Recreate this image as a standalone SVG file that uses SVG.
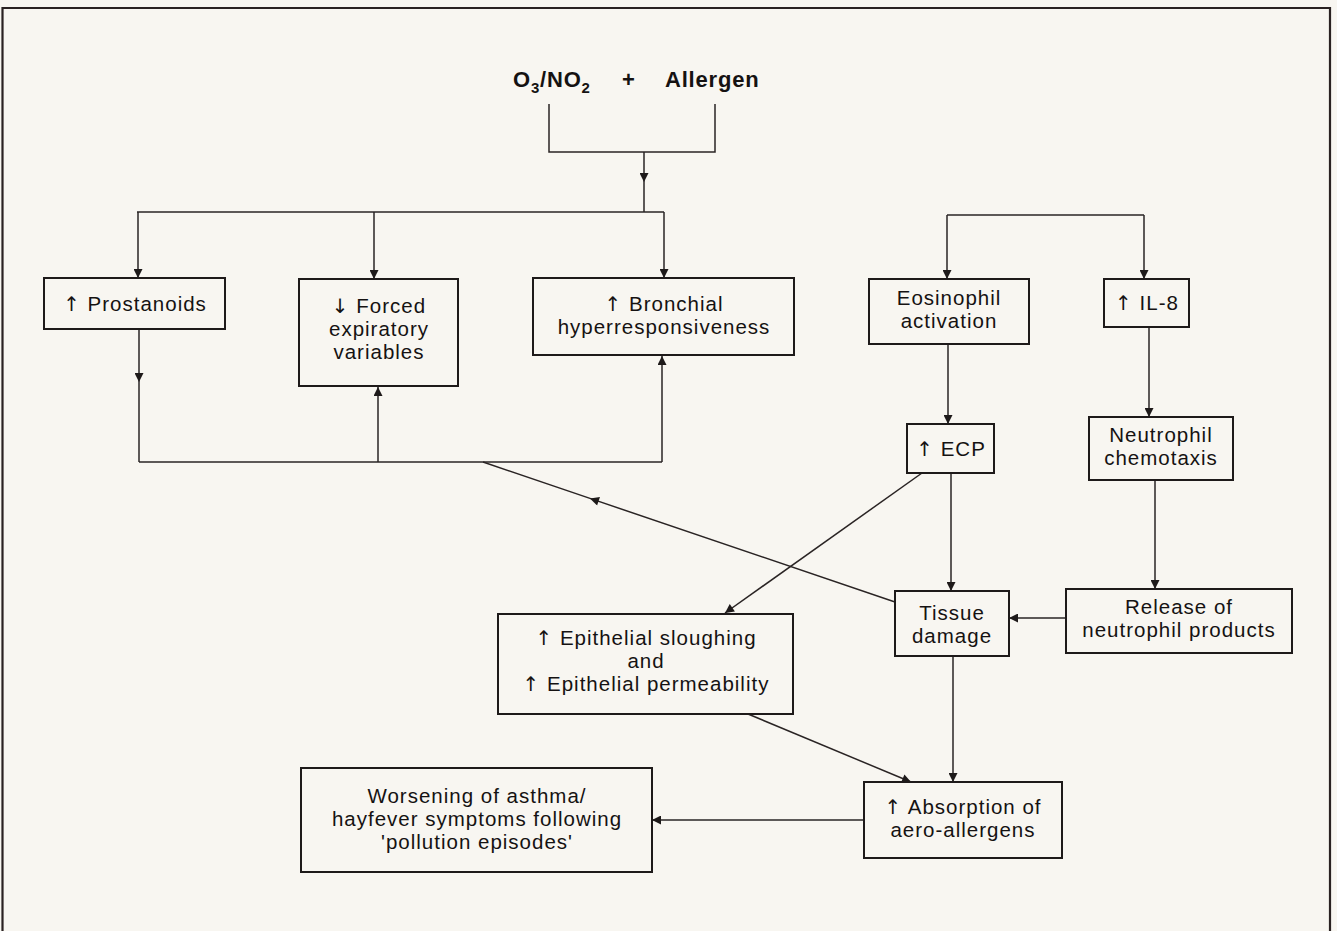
<svg xmlns="http://www.w3.org/2000/svg" width="1337" height="931" viewBox="0 0 1337 931">
<style>
.bg{fill:#f8f6f1}
.box{fill:none;stroke:#1e1a1a;stroke-width:2}
.t{font-family:"Liberation Sans","DejaVu Sans",sans-serif;font-size:20.5px;letter-spacing:1px;fill:#151212;text-anchor:middle}
.a{font-family:"DejaVu Sans","Liberation Sans",sans-serif;font-size:20px;fill:#151212}
.tb{font-family:"Liberation Sans","DejaVu Sans",sans-serif;font-size:22px;font-weight:bold;letter-spacing:0.8px;fill:#151212}
.c{fill:none;stroke:#2a2424;stroke-width:1.5}
.frame{fill:none;stroke:#2a2222;stroke-width:2.2}
</style>
<defs>
<marker id="ah" viewBox="0 0 10 10" refX="10" refY="5" markerWidth="11" markerHeight="9" markerUnits="userSpaceOnUse" orient="auto">
<path d="M0,0 L10,5 L0,10 z" fill="#1e1a1a"/>
</marker>
</defs>
<rect class="bg" x="0" y="0" width="1337" height="931"/>
<path class="frame" d="M2.5,931 L2.5,8 L1330,8 L1330,931"/>

<g id="source">
<text class="tb" x="513" y="87">O<tspan font-size="15" dy="6">3</tspan><tspan dy="-6">/NO</tspan><tspan font-size="15" dy="6">2</tspan></text>
<text class="tb" x="622" y="87">+</text>
<text class="tb" x="665" y="87">Allergen</text>
</g>

<g id="connectors">
<path class="c" d="M549,104 L549,152 L715,152 L715,104"/>
<path class="c" d="M644,152 L644,182 L644,212" marker-mid="url(#ah)"/>
<path class="c" d="M137,212 L664,212"/>
<path class="c" d="M138,212 L138,278" marker-end="url(#ah)"/>
<path class="c" d="M374,212 L374,279" marker-end="url(#ah)"/>
<path class="c" d="M664,212 L664,278" marker-end="url(#ah)"/>
<path class="c" d="M139,329 L139,382 L139,462" marker-mid="url(#ah)"/>
<path class="c" d="M139,462 L662,462"/>
<path class="c" d="M378,462 L378,387" marker-end="url(#ah)"/>
<path class="c" d="M662,462 L662,356" marker-end="url(#ah)"/>
<path class="c" d="M947,215 L1144,215"/>
<path class="c" d="M947,215 L947,279" marker-end="url(#ah)"/>
<path class="c" d="M1144,215 L1144,279" marker-end="url(#ah)"/>
<path class="c" d="M948,344 L948,424" marker-end="url(#ah)"/>
<path class="c" d="M1149,327 L1149,417" marker-end="url(#ah)"/>
<path class="c" d="M1155,480 L1155,589" marker-end="url(#ah)"/>
<path class="c" d="M1066,618 L1009,618" marker-end="url(#ah)"/>
<path class="c" d="M951,473 L951,591" marker-end="url(#ah)"/>
<path class="c" d="M922,473 L725,613" marker-end="url(#ah)"/>
<path class="c" d="M895,602 L590,498.4 L483,462" marker-mid="url(#ah)"/>
<path class="c" d="M953,656 L953,782" marker-end="url(#ah)"/>
<path class="c" d="M748,714 L911,782" marker-end="url(#ah)"/>
<path class="c" d="M864,820 L652,820" marker-end="url(#ah)"/>
</g>

<g id="prostanoids">
<rect class="box" x="44" y="278" width="181" height="51"/>
<text class="t" x="135" y="311"><tspan class="a">↑</tspan> Prostanoids</text>
</g>
<g id="forced">
<rect class="box" x="299" y="279" width="159" height="107"/>
<text class="t" x="379" y="313"><tspan class="a">↓</tspan> Forced<tspan x="379" dy="23">expiratory</tspan><tspan x="379" dy="23">variables</tspan></text>
</g>
<g id="bronchial">
<rect class="box" x="533" y="278" width="261" height="77"/>
<text class="t" x="664" y="311"><tspan class="a">↑</tspan> Bronchial<tspan x="664" dy="23">hyperresponsiveness</tspan></text>
</g>
<g id="eosinophil">
<rect class="box" x="869" y="279" width="160" height="65"/>
<text class="t" x="949" y="305">Eosinophil<tspan x="949" dy="23">activation</tspan></text>
</g>
<g id="il8">
<rect class="box" x="1104" y="279" width="85" height="48"/>
<text class="t" x="1147" y="310"><tspan class="a">↑</tspan> IL-8</text>
</g>
<g id="ecp">
<rect class="box" x="907" y="424" width="87" height="49"/>
<text class="t" x="951" y="456"><tspan class="a">↑</tspan> ECP</text>
</g>
<g id="neutrophil">
<rect class="box" x="1089" y="417" width="144" height="63"/>
<text class="t" x="1161" y="442">Neutrophil<tspan x="1161" dy="23">chemotaxis</tspan></text>
</g>
<g id="release">
<rect class="box" x="1066" y="589" width="226" height="64"/>
<text class="t" x="1179" y="614">Release of<tspan x="1179" dy="23">neutrophil products</tspan></text>
</g>
<g id="tissue">
<rect class="box" x="895" y="591" width="114" height="65"/>
<text class="t" x="952" y="620">Tissue<tspan x="952" dy="23">damage</tspan></text>
</g>
<g id="epithelial">
<rect class="box" x="498" y="614" width="295" height="100"/>
<text class="t" x="646" y="645"><tspan class="a">↑</tspan> Epithelial sloughing<tspan x="646" dy="23">and</tspan><tspan x="646" dy="23"><tspan class="a">↑</tspan> Epithelial permeability</tspan></text>
</g>
<g id="absorption">
<rect class="box" x="864" y="782" width="198" height="76"/>
<text class="t" x="963" y="814"><tspan class="a">↑</tspan> Absorption of<tspan x="963" dy="23">aero-allergens</tspan></text>
</g>
<g id="worsening">
<rect class="box" x="301" y="768" width="351" height="104"/>
<text class="t" x="477" y="803">Worsening of asthma/<tspan x="477" dy="23">hayfever symptoms following</tspan><tspan x="477" dy="23">'pollution episodes'</tspan></text>
</g>
</svg>
